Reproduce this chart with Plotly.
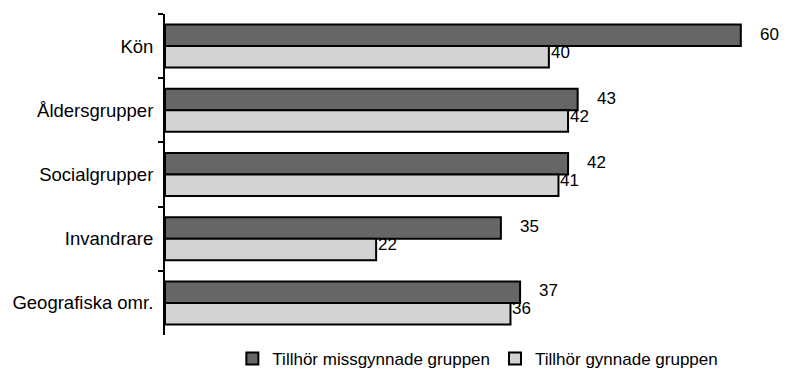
import plotly.graph_objects as go

categories = ["Kön", "Åldersgrupper", "Socialgrupper", "Invandrare", "Geografiska omr."]
missgynnade = [60, 43, 42, 35, 37]
gynnade = [40, 42, 41, 22, 36]

FONT = "Liberation Sans, Arial, sans-serif"

fig = go.Figure()
fig.add_trace(go.Bar(
    y=categories, x=missgynnade, orientation="h",
    name="Tillhör missgynnade gruppen",
    marker=dict(color="#666666", line=dict(color="black", width=2)),
))
fig.add_trace(go.Bar(
    y=categories, x=gynnade, orientation="h",
    name="Tillhör gynnade gruppen",
    marker=dict(color="#d3d3d3", line=dict(color="black", width=2)),
))

# value labels
for cat, v in zip(categories, missgynnade):
    fig.add_annotation(x=v, y=cat, text=str(v), showarrow=False,
                       xanchor="left", xshift=17, yshift=12,
                       font=dict(family=FONT, size=17, color="black"))
for cat, v in zip(categories, gynnade):
    fig.add_annotation(x=v, y=cat, text=str(v), showarrow=False,
                       xanchor="left", xshift=0, yshift=-6,
                       font=dict(family=FONT, size=17, color="black"))

fig.update_layout(
    width=791, height=369,
    barmode="group", bargap=0.33, bargroupgap=0,
    plot_bgcolor="white", paper_bgcolor="white",
    font=dict(family=FONT, size=17, color="black"),
    margin=dict(l=157, r=39, t=6, b=42, autoexpand=False),
    legend=dict(orientation="h", xref="container", x=0.594, xanchor="center",
                yref="container", y=0.0, yanchor="bottom",
                font=dict(size=17), itemwidth=30),
)
fig.update_xaxes(range=[0, 62], visible=False, showgrid=False, zeroline=False)
fig.update_yaxes(autorange="reversed", showline=True, linecolor="black", linewidth=2,
                 ticks="outside", ticklen=5, tickwidth=2, tickcolor="black",
                 tickson="boundaries", showgrid=False, ticklabelstandoff=6,
                 tickfont=dict(size=18.5), automargin=False)

fig.write_html("out.html")
